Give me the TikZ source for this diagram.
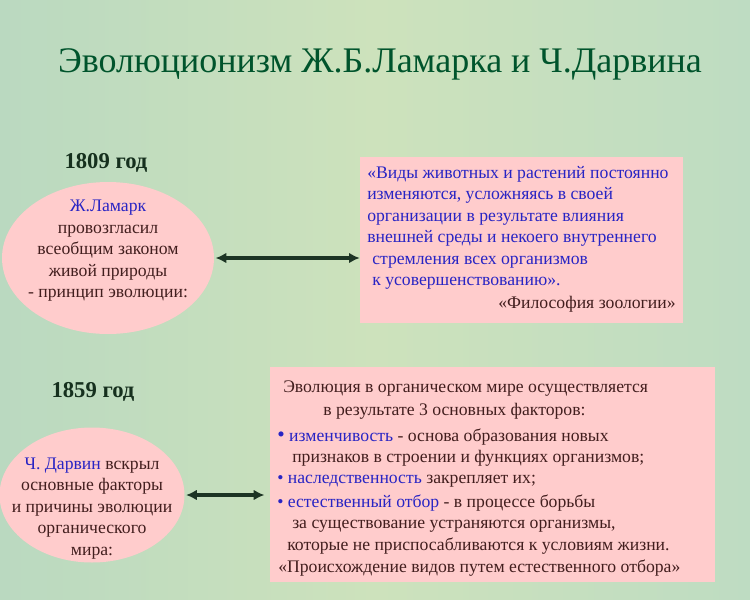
\documentclass[tikz,border=0pt]{standalone}
\usepackage{fontspec}
\setmainfont{Liberation Serif}
\usetikzlibrary{arrows.meta,shapes.geometric}
\definecolor{bgL}{RGB}{186,217,192}
\definecolor{bgM}{RGB}{205,226,188}
\definecolor{bgR}{RGB}{190,220,194}
\definecolor{pinkfill}{RGB}{255,204,204}
\definecolor{txt}{RGB}{66,30,30}
\definecolor{blu}{RGB}{40,36,196}
\definecolor{ttl}{RGB}{0,84,44}
\definecolor{yr}{RGB}{22,48,30}
\definecolor{arr}{RGB}{28,52,36}
\begin{document}
\begin{tikzpicture}[x=0.75pt,y=-0.75pt,
  body/.style={font=\fontsize{13.25}{15}\selectfont, text=txt, inner sep=0pt},
  bluetxt/.style={body, text=blu},
  pinkbox/.style={rectangle, fill=pinkfill, draw=none, inner sep=0pt},
  pinkell/.style={ellipse, fill=pinkfill, draw=none, inner sep=0pt},
  year/.style={font=\fontsize{17}{20}\selectfont\bfseries, text=yr, inner sep=0pt},
  link/.style={draw=arr, line width=2.6pt, {Latex[length=8pt,width=8pt]}-{Latex[length=8pt,width=8pt]}}
]
\useasboundingbox (0,0) rectangle (750,600);
\shade[left color=bgL, right color=bgR, middle color=bgM] (0,0) rectangle (750,600);

% title
\node[font=\fontsize{27}{30}\selectfont, text=ttl, inner sep=0pt, anchor=base] (title) at (380,72) {Эволюционизм Ж.Б.Ламарка и Ч.Дарвина};

% 1809
\node[year, anchor=base] (y1) at (106,168) {1809 год};
\node[pinkell, minimum width=159pt, minimum height=114pt] (e1) at (108,258) {};
\node[bluetxt, anchor=base] (e1l1) at (108,211) {Ж.Ламарк};
\node[body, anchor=base] (e1l2) at (108,233) {провозгласил};
\node[body, anchor=base] (e1l3) at (108,254) {всеобщим законом};
\node[body, anchor=base] (e1l4) at (108,276) {живой природы};
\node[body, anchor=base] (e1l5) at (108,297) {- принцип эволюции:};

\node[pinkbox, minimum width=242.25pt, minimum height=124.5pt] (b1) at (521.5,240) {};
\node[bluetxt, anchor=base west] (b1l1) at (367,178) {«Виды животных и растений постоянно};
\node[bluetxt, anchor=base west] (b1l2) at (367,199.5) {изменяются, усложняясь в своей};
\node[bluetxt, anchor=base west] (b1l3) at (367,221) {организации в результате влияния};
\node[bluetxt, anchor=base west] (b1l4) at (367,242.5) {внешней среды и некоего внутреннего};
\node[bluetxt, anchor=base west] (b1l5) at (372,264) {стремления всех организмов};
\node[bluetxt, anchor=base west] (b1l6) at (372,285.5) {к усовершенствованию».};
\node[body, anchor=base east] (b1l7) at (676,308) {«Философия зоологии»};

\draw[link, shorten <=1pt] (e1.east) -- (e1.east -| b1.west);

% 1859
\node[year, anchor=base] (y2) at (93,397) {1859 год};
\node[pinkell, minimum width=138.75pt, minimum height=101.25pt] (e2) at (92,495) {};
\node[body, anchor=base] (e2l1) at (92,469) {{\color{blu}Ч. Дарвин} вскрыл};
\node[body, anchor=base] (e2l2) at (92,490.5) {основные факторы};
\node[body, anchor=base] (e2l3) at (92,512) {и причины эволюции};
\node[body, anchor=base] (e2l4) at (92,533.5) {органического};
\node[body, anchor=base] (e2l5) at (92,555) {мира:};

\node[pinkbox, minimum width=333.75pt, minimum height=161.25pt] (b2) at (492.5,474.5) {};
\node[body, anchor=base west] (b2l1) at (283,392) {Эволюция в органическом мире осуществляется};
\node[body, anchor=base west] (b2l2) at (323,415) {в результате 3 основных факторов:};
\node[body, anchor=base west] (b2l3) at (277,441) {{\color{blu}\fontsize{16}{15}\selectfont•} {\color{blu}изменчивость} - основа образования новых};
\node[body, anchor=base west] (b2l4) at (292,462) {признаков в строении и функциях организмов;};
\node[body, anchor=base west] (b2l5) at (277,483) {{\color{blu}• наследственность} закрепляет их;};
\node[body, anchor=base west] (b2l6) at (277,507) {{\color{blu}• естественный отбор} - в процессе борьбы};
\node[body, anchor=base west] (b2l7) at (292,528) {за существование устраняются организмы,};
\node[body, anchor=base west] (b2l8) at (287,550) {которые не приспосабливаются к условиям жизни.};
\node[body, anchor=base west] (b2l9) at (278,572) {«Происхождение видов путем естественного отбора»};

\draw[link, shorten <=1pt, shorten >=4pt] (e2.east) -- (e2.east -| b2.west);
\end{tikzpicture}
\end{document}
